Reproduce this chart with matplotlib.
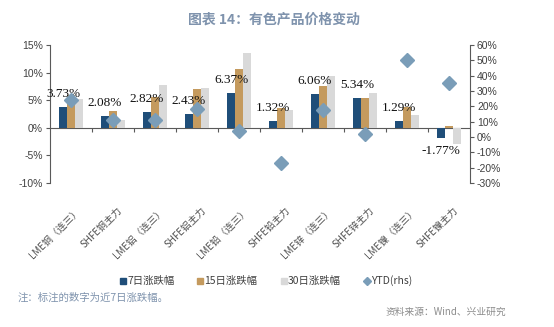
import matplotlib
matplotlib.use("Agg")
import matplotlib.pyplot as plt
from matplotlib.lines import Line2D
from matplotlib.ticker import FuncFormatter, MultipleLocator
import matplotlib.transforms as mtransforms
import numpy as np

plt.rcParams['font.family'] = ['Noto Sans CJK SC', 'DejaVu Sans']

categories = ["LME铜（连三）", "SHFE铜主力", "LME铝（连三）", "SHFE铝主力", "LME铅（连三）",
              "SHFE铅主力", "LME锌（连三）", "SHFE锌主力", "LME镍（连三）", "SHFE镍主力"]
chg_7d = [3.73, 2.08, 2.82, 2.43, 6.37, 1.32, 6.06, 5.34, 1.29, -1.77]
chg_15d = [5.9, 3.1, 5.6, 7.0, 10.6, 3.6, 7.5, 5.4, 3.7, 0.4]
chg_30d = [5.3, 1.4, 7.8, 7.2, 13.5, 3.2, 9.3, 6.3, 2.3, -2.9]
ytd = [24.4, 11.4, 11.4, 18.1, 3.9, -17.0, 17.5, 2.2, 50.0, 35.4]
legend_labels = ["7日涨跌幅", "15日涨跌幅", "30日涨跌幅", "YTD(rhs)"]

c_dark = "#1F4E79"
c_tan = "#C49A5E"
c_gray = "#D9D9D9"
c_ytd = "#7A9DB8"
txt = "#404040"

fig = plt.figure(figsize=(5.54, 3.27), dpi=100)
ax = fig.add_axes([50/554, 1-183/327, 420/554, 138/327])
ax2 = ax.twinx()

x = np.arange(len(categories))
w = 0.19
ax.bar(x - w, chg_7d, w, color=c_dark, zorder=2)
ax.bar(x, chg_15d, w, color=c_tan, zorder=2)
ax.bar(x + w, chg_30d, w, color=c_gray, zorder=2)

ax2.plot(x, ytd, linestyle='none', marker='D', markersize=7, color=c_ytd, zorder=3)

for xi, v in zip(x, chg_7d):
    off = 5 if v >= 0 else -5
    ax.annotate(f"{v:.2f}%", (xi - w, v), xytext=(0, off), textcoords='offset points',
                ha='center', va='bottom' if v >= 0 else 'top',
                fontsize=9.5, family='Liberation Serif', color='#111111', zorder=5)

ax.set_xlim(-0.5, len(categories) - 0.5)
ax.set_ylim(-10, 15)
ax2.set_ylim(-30, 60)
ax.yaxis.set_major_locator(MultipleLocator(5))
ax2.yaxis.set_major_locator(MultipleLocator(10))
ax.yaxis.set_major_formatter(FuncFormatter(lambda v, p: f"{v:.0f}%"))
ax2.yaxis.set_major_formatter(FuncFormatter(lambda v, p: f"{v:.0f}%"))

for a in (ax, ax2):
    a.spines['top'].set_visible(False)
    a.spines['bottom'].set_visible(False)
    a.patch.set_visible(False)
ax.spines['right'].set_visible(False)
ax2.spines['left'].set_visible(False)
ax.spines['left'].set_color('#595959')
ax2.spines['right'].set_color('#595959')
ax.spines['left'].set_linewidth(0.8)
ax2.spines['right'].set_linewidth(0.8)

ax.tick_params(axis='y', direction='out', length=3, width=0.8, color='#595959',
               labelsize=7.5, labelcolor=txt, pad=2)
ax2.tick_params(axis='y', direction='out', length=3, width=0.8, color='#595959',
                labelsize=7.5, labelcolor=txt, pad=2)
for lab in ax.get_yticklabels() + ax2.get_yticklabels():
    lab.set_family(['Liberation Sans', 'DejaVu Sans'])

ax.set_xticks(x)
ax.set_xticklabels(categories, rotation=45, ha='right', va='top', rotation_mode='anchor',
                   fontsize=7, color='#505050')
ax.tick_params(axis='x', length=0, pad=16)
shift = mtransforms.ScaledTranslation(4/100, 0, fig.dpi_scale_trans)
for lab in ax.get_xticklabels():
    lab.set_transform(lab.get_transform() + shift)

# zero line with separator ticks
sec = ax.secondary_xaxis(0.4)
sec.set_xticks(x[:-1] + 0.5)
sec.set_xticklabels([])
sec.tick_params(axis='x', direction='out', length=3, width=0.8, color='#595959')
sec.spines['bottom'].set_color('#595959')
sec.spines['bottom'].set_linewidth(0.8)

fig.text(274/554, 1-20/327, "图表 14：有色产品价格变动", ha='center', va='center',
         fontsize=10, fontweight='bold', color='#7F93AD')

handles = [Line2D([], [], linestyle='none', marker='s', markersize=4, color=c_dark),
           Line2D([], [], linestyle='none', marker='s', markersize=4, color=c_tan),
           Line2D([], [], linestyle='none', marker='s', markersize=4, color=c_gray),
           Line2D([], [], linestyle='none', marker='D', markersize=4, color=c_ytd)]
fig.legend(handles, legend_labels, loc='center', bbox_to_anchor=(266/554, 1-281/327),
           ncol=4, frameon=False, fontsize=7.5, handlelength=0.6, handletextpad=0.1,
           columnspacing=2.2, labelcolor=txt)

fig.text(18/554, 1-298/327, "注：标注的数字为近7日涨跌幅。", ha='left', va='center',
         fontsize=7.5, color='#7F93AD')
fig.text(506/554, 1-312/327, "资料来源：Wind、兴业研究", ha='right', va='center',
         fontsize=7, color='#8C8C8C')

fig.savefig("out.png", dpi=100)
